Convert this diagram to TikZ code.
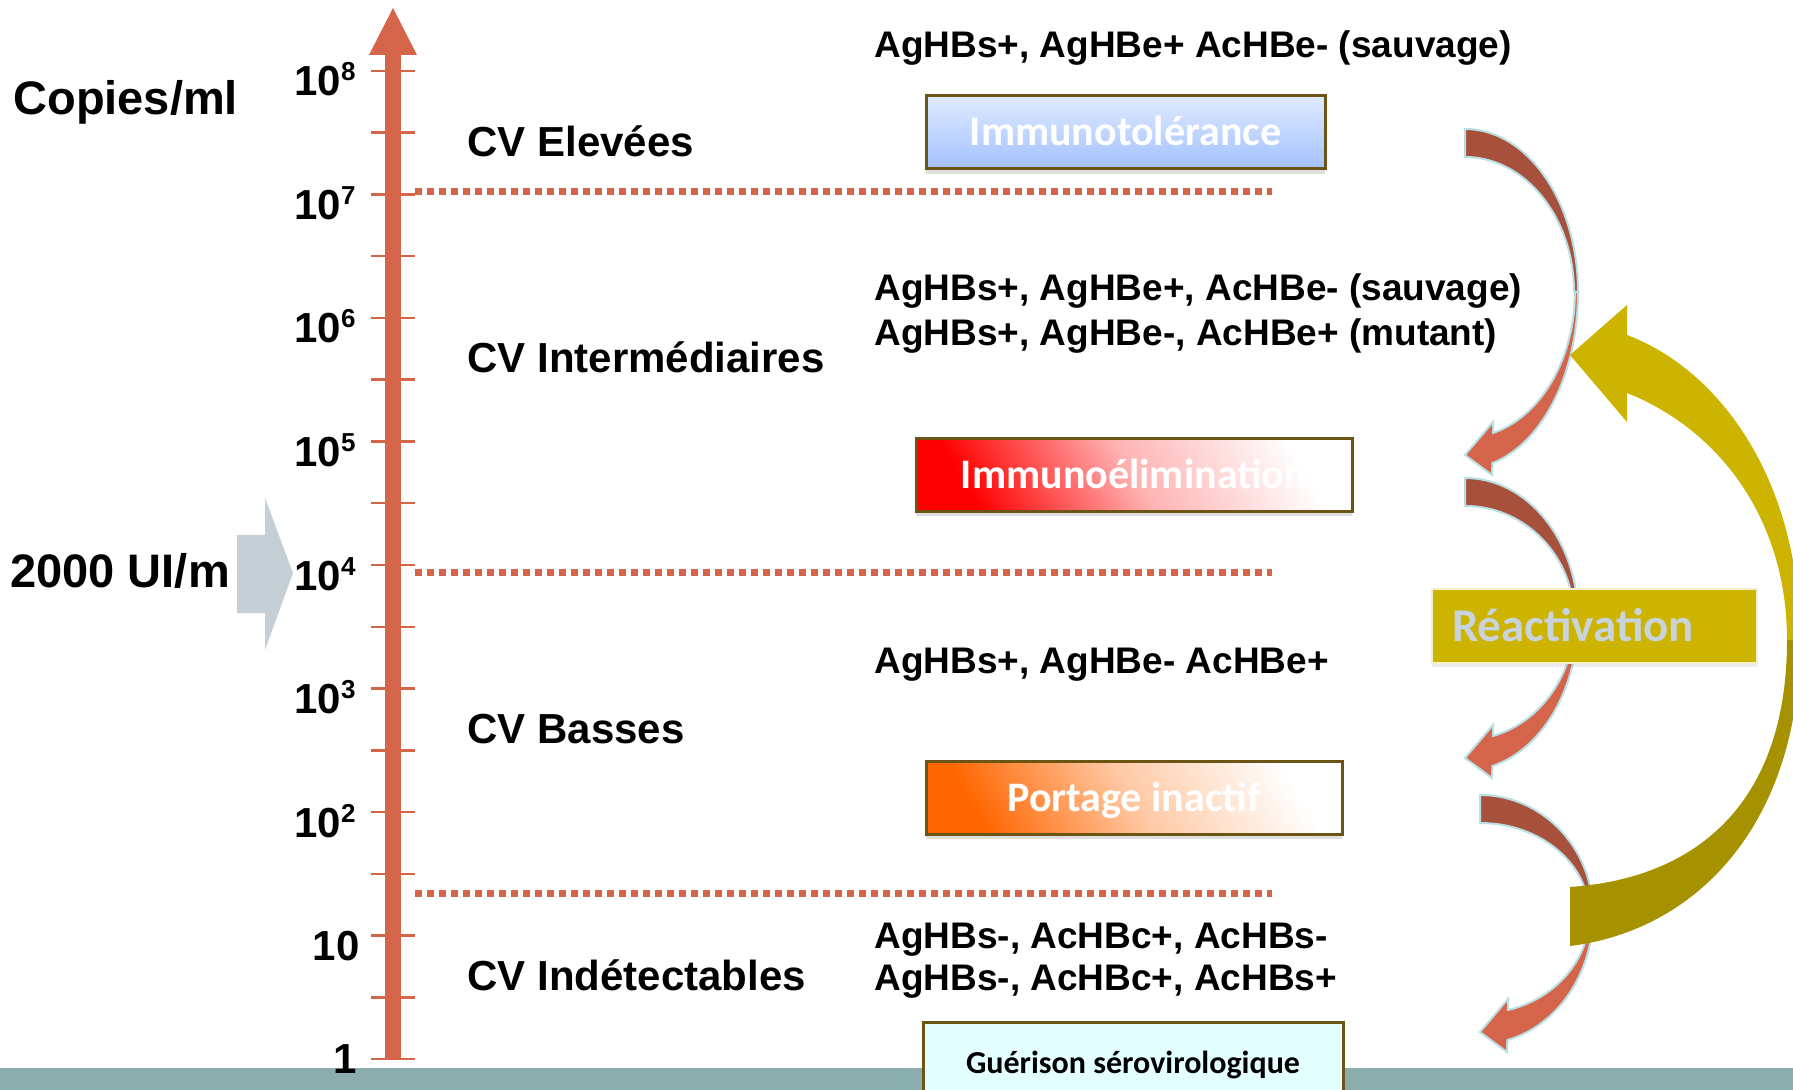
\documentclass[tikz,border=0pt]{standalone}
\usepackage{fontspec}
\setmainfont{Liberation Sans}
\newfontfamily\calibri{Carlito}
\usetikzlibrary{shadows}

\definecolor{axisred}{RGB}{212,101,74}
\definecolor{loopback}{RGB}{167,81,61}
\definecolor{loopfront}{RGB}{212,101,75}
\definecolor{loopedge}{RGB}{185,222,228}
\definecolor{reactyellow}{RGB}{204,180,0}
\definecolor{reactdark}{RGB}{166,146,0}
\definecolor{reacttext}{RGB}{200,211,219}
\definecolor{phaseedge}{RGB}{107,84,20}
\definecolor{pointergray}{RGB}{197,208,214}
\definecolor{footband}{RGB}{139,173,173}
\definecolor{tolblue}{RGB}{163,193,255}
\definecolor{tolblue2}{RGB}{223,234,255}
\definecolor{portorange}{RGB}{255,102,0}
\definecolor{guerfill}{RGB}{228,255,255}

\newcommand\expo[1]{\raisebox{7.5pt}{\fontsize{13}{14}\selectfont #1}}

% curved arrow: x, top y, half height
\newcommand\redloop[3]{%
  \fill[loopback,draw=loopedge,line width=1pt] (#1,-#2)
    arc[start angle=90,end angle=0,x radius=113,y radius=#3] -- ++(-4,0)
    arc[start angle=0,end angle=90,x radius=109,y radius={#3-28}] -- cycle;
  \fill[loopfront,draw=loopedge,line width=1pt] ({#1+113},{-#2-#3})
    arc[start angle=0,end angle=-76,x radius=113,y radius={(#3+8)/0.97}]
    -- ({#1+27},{-#2-2*#3-20}) -- (#1,{-#2-2*#3}) -- ({#1+28},{-#2-2*#3+33})
    -- ({#1+28},{-#2-2*#3+22})
    arc[start angle=-75.6,end angle=0,x radius=109,y radius={(#3-22)/0.9686}] -- cycle;
}

\begin{document}
\begin{tikzpicture}[x=0.5pt,y=0.5pt,
    every node/.style={inner sep=0pt},
    ticklabel/.style={anchor=base east,font=\fontsize{21}{25}\selectfont\bfseries},
    cvlabel/.style={anchor=base west,font=\fontsize{21}{25}\selectfont\bfseries},
    aglabel/.style={anchor=base west,font=\fontsize{18.5}{22}\selectfont\bfseries},
    phase/.style={draw=phaseedge,line width=1.5pt,text=white,
      font=\calibri\fontsize{21}{25}\selectfont\bfseries,
      text height=13.5pt,text depth=0pt,minimum height=36.5pt,
      drop shadow={opacity=.25,shadow xshift=0pt,shadow yshift=-2.5pt}},
    cutoff/.style={axisred,line width=3.5pt,dash pattern=on 3.5pt off 2.5pt}]
  \useasboundingbox (0,0) rectangle (1793,-1090);
  \clip (0,0) rectangle (1793,-1090);

  % scale
  \draw [axisred,line width=8pt] (393,-1060) -- (393,-54);
  \fill [axisred] (369,-55) -- (393,-8) -- (417,-55) -- cycle;
  \foreach \k in {0,...,16}
    \draw [axisred,line width=1.25pt] (371,{-71-61.75*\k}) -- (415,{-71-61.75*\k});
  \foreach \k in {2,...,8}
    \node [ticklabel] (e\k) at (356,{123.5*\k-1084}) {10\expo{\k}};
  \node [ticklabel] (e1) at (360,-960) {10};

  \node [anchor=base west,font=\fontsize{23.5}{28}\selectfont\bfseries] (unit) at (13,-115) {Copies/ml};
  \node [anchor=base west,font=\fontsize{23.5}{28}\selectfont\bfseries] (seuil) at (10,-588) {2000 UI/m};
  \fill [pointergray] (237,-535) -- (265,-535) -- (265,-498) -- (293,-573)
    -- (265,-650) -- (265,-613) -- (237,-613) -- cycle;

  % limits
  \foreach \y in {192,573,893}
    \draw [cutoff] (415,-\y) -- (1272,-\y);

  \node [cvlabel] (cv1) at (467,-157) {CV Elevées};
  \node [cvlabel] (cv2) at (467,-373) {CV Intermédiaires};
  \node [cvlabel] (cv3) at (467,-743) {CV Basses};
  \node [cvlabel] (cv4) at (467,-990) {CV Indétectables};

  \node [aglabel] (ag1) at (874,-58) {AgHBs+, AgHBe+ AcHBe- (sauvage)};
  \node [aglabel] (ag2) at (874,-301) {AgHBs+, AgHBe+, AcHBe- (sauvage)};
  \node [aglabel] (ag3) at (874,-346) {AgHBs+, AgHBe-, AcHBe+ (mutant)};
  \node [aglabel] (ag4) at (874,-673) {AgHBs+, AgHBe- AcHBe+};
  \node [aglabel] (ag5) at (874,-948) {AgHBs-, AcHBc+, AcHBs-};
  \node [aglabel] (ag6) at (874,-990) {AgHBs-, AcHBc+, AcHBs+};

  % phases
  \node [phase,minimum width=199.5pt,top color=tolblue2,bottom color=tolblue] (tol) at (1125.5,-132.5) {Immunotolérance};
  \node [phase,minimum width=218pt,top color=white,bottom color=red,middle color=red!30!white,shading angle=-60] (elim) at (1134,-475) {Immunoélimination};
  \node [phase,minimum width=208pt,top color=white,bottom color=portorange,middle color=portorange!35!white,shading angle=-60] (inact) at (1134,-797.5) {Portage inactif};

  \fill [footband] (0,-1068) rectangle (1793,-1090);
  \node [ticklabel] (e0) at (357,-1073) {1};
  \node [phase,minimum width=210pt,minimum height=41pt,fill=guerfill,text=black,
    font=\calibri\fontsize{16}{19}\selectfont\bfseries,text height=10.3pt] (guer) at (1133,-1063) {Guérison sérovirologique};

  % evolution
  \redloop{1465}{129}{163}
  \redloop{1465}{478}{140}
  \redloop{1480}{795}{118.5}

  \fill [reactyellow] (1570,-355) -- (1627,-305) -- (1627,-335)
    .. controls (1720,-370) and (1800,-480) .. (1800,-640) -- (1787,-640)
    .. controls (1787,-520) and (1720,-430) .. (1627,-393) -- (1627,-422) -- cycle;
  \fill [reactdark] (1800,-640) .. controls (1800,-820) and (1700,-930) .. (1570,-946)
    -- (1570,-887) .. controls (1700,-878) and (1787,-800) .. (1787,-640) -- cycle;

  \node [draw=white!80!reactyellow,line width=.75pt,fill=reactyellow,text=reacttext,
    font=\calibri\fontsize{23.5}{28}\selectfont\bfseries,text height=15pt,text depth=0pt,
    minimum width=162.5pt,minimum height=37pt,inner xsep=10pt,text width=142.5pt,align=left,
    drop shadow={opacity=.15,shadow xshift=0pt,shadow yshift=-2pt}] (react) at (1594.5,-626) {Réactivation};
\end{tikzpicture}
\end{document}
